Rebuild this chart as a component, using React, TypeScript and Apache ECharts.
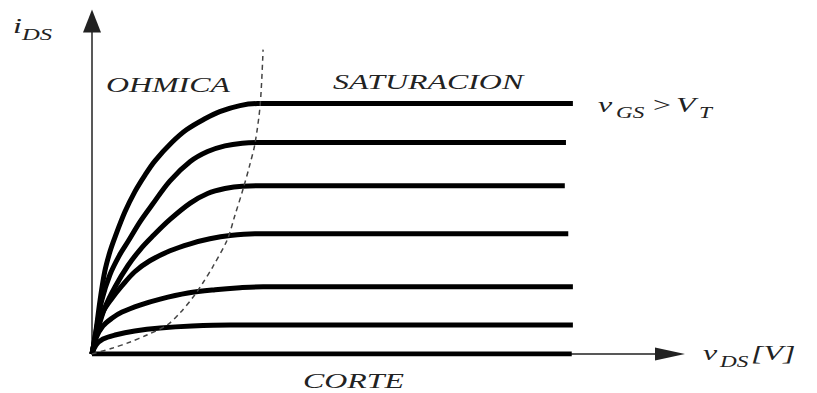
import React, { useEffect, useRef } from "react";
import * as echarts from "echarts";

// Output characteristics of an n-channel MOSFET: i_DS versus v_DS for rising v_GS.
// Each curve: [v_DS, i_DS] in arbitrary units.
const curveGs6: [number, number][] = [
  [0, 0], [0.07, 0.72], [0.14, 1.62], [0.22, 2.47], [0.31, 3.07], [0.4, 3.52],
  [0.57, 4.27], [0.74, 4.87], [0.92, 5.38], [1.09, 5.8], [1.38, 6.35],
  [1.64, 6.74], [1.96, 7.07], [2.21, 7.28], [2.56, 7.46], [2.87, 7.52],
  [3.2, 7.52], [8.32, 7.52],
];
const curveGs5: [number, number][] = [
  [0, 0], [0.09, 0.87], [0.17, 1.62], [0.31, 2.38], [0.48, 2.98], [0.62, 3.37],
  [0.83, 3.97], [1.04, 4.48], [1.35, 5.2], [1.7, 5.78], [2.0, 6.08],
  [2.3, 6.25], [2.6, 6.33], [2.91, 6.35], [3.2, 6.35], [8.2, 6.35],
];
const curveGs4: [number, number][] = [
  [0, 0], [0.1, 0.72], [0.22, 1.38], [0.4, 2.02], [0.62, 2.65], [0.83, 3.13],
  [1.04, 3.52], [1.35, 4.04], [1.7, 4.53], [2.0, 4.82], [2.3, 4.97],
  [2.6, 5.04], [2.94, 5.05], [3.25, 5.05], [8.18, 5.05],
];
const curveGs3: [number, number][] = [
  [0, 0], [0.09, 0.72], [0.19, 1.26], [0.35, 1.68], [0.52, 2.05], [0.74, 2.47],
  [1.0, 2.8], [1.35, 3.1], [1.7, 3.31], [2.04, 3.46], [2.39, 3.56],
  [2.82, 3.61], [3.15, 3.61], [8.24, 3.61],
];
const curveGs2: [number, number][] = [
  [0, 0], [0.07, 0.48], [0.19, 0.84], [0.35, 1.08], [0.52, 1.26], [0.83, 1.47],
  [1.18, 1.65], [1.66, 1.83], [2.13, 1.93], [2.56, 1.99], [2.96, 2.02],
  [3.3, 2.02], [8.32, 2.02],
];
const curveGs1: [number, number][] = [
  [0, 0], [0.07, 0.27], [0.19, 0.45], [0.4, 0.57], [0.74, 0.69], [1.18, 0.78],
  [1.73, 0.84], [2.39, 0.87], [2.96, 0.87], [3.3, 0.87], [8.32, 0.87],
];
// Cut-off: no current at all
const curveCutoff: [number, number][] = [[0, 0], [8.3, 0]];

// Boundary between the ohmic and saturation regions
const boundary: [number, number][] = [
  [0, 0], [0.36, 0.18], [0.66, 0.36], [0.95, 0.57], [1.3, 0.87], [1.52, 1.23],
  [1.75, 1.71], [1.92, 2.14], [2.09, 2.62], [2.34, 3.43], [2.47, 4.15],
  [2.61, 4.93], [2.73, 5.68], [2.82, 6.32], [2.91, 7.49], [2.96, 9.14],
];

const curves = [curveGs6, curveGs5, curveGs4, curveGs3, curveGs2, curveGs1, curveCutoff];

const SERIF = "'Liberation Serif', 'DejaVu Serif', serif";
const INK = "#222";
const STRETCH = 1.45;

function label(text: string, x: number, y: number, size: number) {
  return {
    type: "text",
    x,
    y,
    scaleX: STRETCH,
    z: 10,
    style: {
      text,
      font: `italic ${size}px ${SERIF}`,
      fill: INK,
      textAlign: "left",
      textVerticalAlign: "middle",
      align: "left",
      verticalAlign: "middle",
    },
  };
}

export default function App() {
  const ref = useRef<HTMLDivElement>(null);

  useEffect(() => {
    if (!ref.current) return;
    const chart = echarts.init(ref.current, undefined, { renderer: "svg" });

    const curveSeries = curves.map((data) => ({
      type: "line",
      data,
      showSymbol: false,
      smooth: 0.35,
      lineStyle: { color: "#000", width: 5, cap: "butt", join: "round" },
      z: 3,
    }));

    chart.setOption({
      animation: false,
      backgroundColor: "#fff",
      grid: { left: 92, right: 147, top: 21, bottom: 39 },
      xAxis: {
        type: "value",
        min: 0,
        max: 10,
        axisLine: {
          show: true,
          symbol: ["none", "triangle"],
          symbolSize: [13, 30],
          lineStyle: { color: "#222", width: 1.5 },
        },
        axisTick: { show: false },
        axisLabel: { show: false },
        splitLine: { show: false },
      },
      yAxis: {
        type: "value",
        min: 0,
        max: 10,
        axisLine: {
          show: true,
          symbol: ["none", "triangle"],
          symbolSize: [18, 23],
          lineStyle: { color: "#222", width: 1.5 },
        },
        axisTick: { show: false },
        axisLabel: { show: false },
        splitLine: { show: false },
      },
      series: [
        ...curveSeries,
        {
          type: "line",
          data: boundary,
          showSymbol: false,
          smooth: 0.3,
          lineStyle: { color: "#444", width: 1.5, type: [5, 4] },
          z: 4,
        },
      ],
      graphic: [
        label("i", 13, 25.6, 22),
        label("DS", 22, 34.3, 17),
        label("OHMICA", 106, 84.6, 22),
        label("SATURACION", 333, 82, 22),
        label("CORTE", 303, 381, 22),
        label("v", 598, 104.6, 22),
        label("GS", 616, 112.6, 16),
        label(">", 651, 104.6, 22),
        label("V", 676, 104.6, 22),
        label("T", 699, 112.6, 16),
        label("v", 703, 352.6, 22),
        label("DS", 720, 361.6, 16),
        label("[V]", 751, 352.6, 22),
      ],
    });

    return () => chart.dispose();
  }, []);

  return (
    <div
      ref={ref}
      style={{ position: "fixed", left: 0, top: 0, width: 817, height: 393, background: "#fff" }}
    />
  );
}
